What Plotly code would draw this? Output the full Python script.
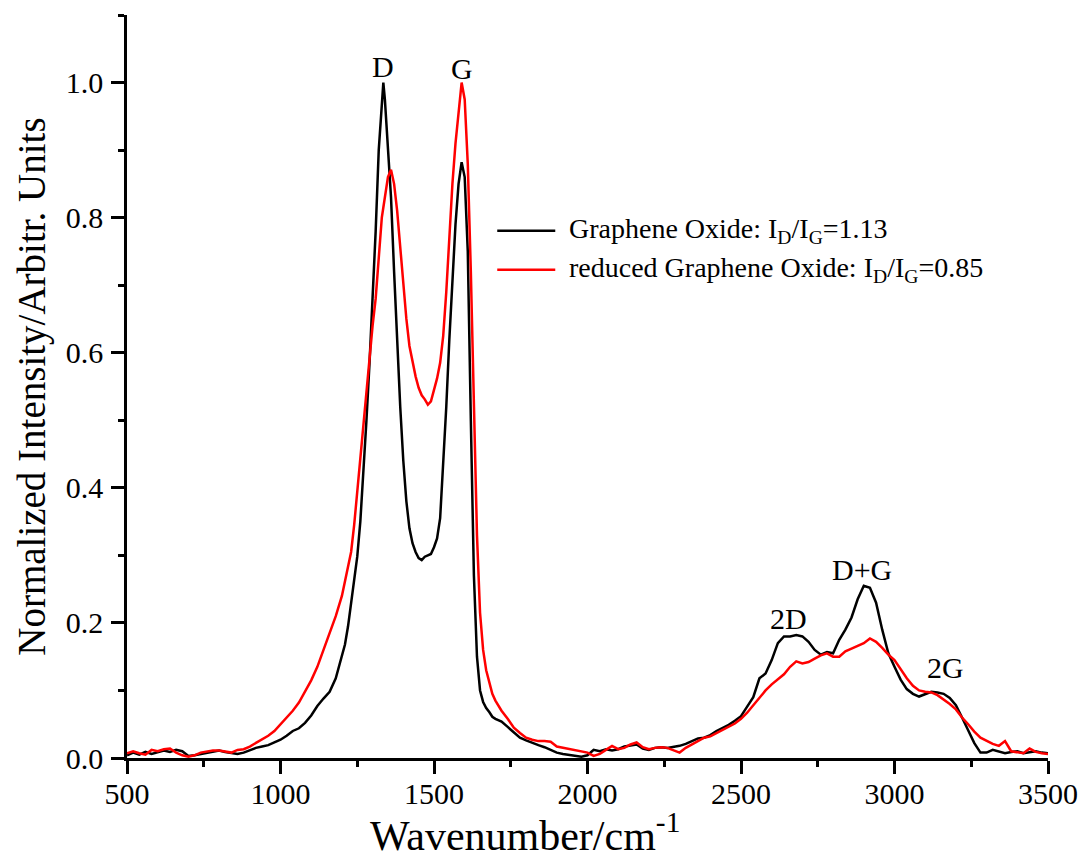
import plotly.graph_objects as go

# Raman shift sampling points (cm^-1)
wavenumber = [
    500, 520, 540, 560, 580, 600, 620, 640, 660, 680,
    700, 720, 740, 760, 780, 800, 820, 840, 860, 880,
    900, 920, 940, 960, 980, 1000, 1020, 1040, 1060, 1080,
    1100, 1120, 1140, 1160, 1180, 1200,
    1210, 1220, 1230, 1240, 1250, 1260, 1270, 1280, 1290, 1300,
    1310, 1320, 1330, 1335,
    1340, 1350, 1360, 1370, 1380, 1390, 1400, 1410, 1420, 1430,
    1440, 1450, 1460, 1470, 1480, 1490, 1500, 1510, 1520, 1530,
    1540, 1550, 1560, 1570, 1580, 1590, 1600, 1610, 1620, 1630,
    1640, 1650, 1660, 1670, 1680, 1690, 1700,
    1720, 1740, 1760, 1780, 1800, 1820, 1840, 1860, 1880, 1900,
    1920, 1940, 1960, 1980, 2000, 2020, 2040, 2060, 2080, 2100,
    2120, 2140, 2160, 2180, 2200, 2220, 2240, 2260, 2280, 2300,
    2320, 2340, 2360, 2380, 2400, 2420, 2440, 2460, 2480, 2500,
    2520, 2540, 2560, 2580, 2600, 2620, 2640, 2660, 2680, 2700,
    2720, 2740, 2760, 2780, 2800, 2820, 2840, 2860, 2880, 2900,
    2920, 2940, 2960, 2980, 3000, 3020, 3040, 3060, 3080, 3100,
    3120, 3140, 3160, 3180, 3200, 3220, 3240, 3260, 3280, 3300,
    3320, 3340, 3360, 3380, 3400, 3420, 3440, 3460, 3480, 3500,
]

# Normalized intensity, graphene oxide
go_intensity = [
    0.004, 0.008, 0.005, 0.009, 0.006, 0.008, 0.011, 0.009, 0.012, 0.010,
    0.003, 0.004, 0.006, 0.008, 0.010, 0.011, 0.009, 0.007, 0.006, 0.008,
    0.012, 0.015, 0.017, 0.019, 0.023, 0.027, 0.033, 0.040, 0.044, 0.052,
    0.063, 0.077, 0.088, 0.098, 0.118, 0.150,
    0.168, 0.195, 0.228, 0.262, 0.298, 0.350, 0.420, 0.500, 0.585, 0.680,
    0.780, 0.900, 0.975, 1.000,
    0.975, 0.905, 0.830, 0.720, 0.610, 0.520, 0.440, 0.380, 0.340, 0.318,
    0.305, 0.296, 0.293, 0.298, 0.300, 0.302, 0.312, 0.325, 0.355, 0.430,
    0.520, 0.620, 0.710, 0.790, 0.850, 0.882, 0.860, 0.750, 0.500, 0.270,
    0.150, 0.100, 0.083, 0.074, 0.068, 0.061, 0.058,
    0.054, 0.046, 0.038, 0.030, 0.026, 0.022, 0.019, 0.016, 0.012, 0.008,
    0.006, 0.005, 0.004, 0.002, 0.004, 0.012, 0.010, 0.013, 0.011, 0.013,
    0.017, 0.019, 0.020, 0.014, 0.012, 0.015, 0.016, 0.015, 0.016, 0.018,
    0.021, 0.025, 0.029, 0.030, 0.034, 0.040, 0.044, 0.049, 0.055, 0.062,
    0.076, 0.090, 0.118, 0.125, 0.145, 0.170, 0.180, 0.180, 0.182, 0.180,
    0.172, 0.160, 0.153, 0.157, 0.155, 0.175, 0.190, 0.208, 0.235, 0.255,
    0.252, 0.230, 0.190, 0.155, 0.135, 0.116, 0.102, 0.095, 0.091, 0.095,
    0.098, 0.097, 0.095, 0.089, 0.078, 0.060, 0.041, 0.022, 0.008, 0.008,
    0.012, 0.010, 0.007, 0.009, 0.010, 0.007, 0.008, 0.010, 0.008, 0.007,
]

# Normalized intensity, reduced graphene oxide
rgo_intensity = [
    0.007, 0.010, 0.007, 0.005, 0.012, 0.010, 0.013, 0.014, 0.008, 0.004,
    0.002, 0.004, 0.008, 0.010, 0.011, 0.011, 0.010, 0.008, 0.012, 0.013,
    0.017, 0.022, 0.027, 0.033, 0.040, 0.050, 0.060, 0.070, 0.082, 0.098,
    0.115, 0.135, 0.160, 0.185, 0.210, 0.240,
    0.262, 0.283, 0.305, 0.345, 0.395, 0.445, 0.500, 0.550, 0.600, 0.640,
    0.680, 0.745, 0.800, 0.815,
    0.830, 0.860, 0.871, 0.850, 0.810, 0.757, 0.710, 0.650, 0.610, 0.585,
    0.565, 0.548, 0.537, 0.531, 0.523, 0.528, 0.545, 0.562, 0.585, 0.625,
    0.690, 0.770, 0.850, 0.910, 0.960, 1.000, 0.975, 0.880, 0.720, 0.520,
    0.330, 0.215, 0.160, 0.130, 0.110, 0.095, 0.085,
    0.070, 0.058, 0.045, 0.037, 0.030, 0.027, 0.025, 0.025, 0.024, 0.017,
    0.015, 0.014, 0.012, 0.010, 0.008, 0.003, 0.006, 0.012, 0.018, 0.013,
    0.015, 0.020, 0.023, 0.016, 0.013, 0.015, 0.016, 0.015, 0.012, 0.008,
    0.015, 0.020, 0.024, 0.030, 0.032, 0.037, 0.041, 0.046, 0.051, 0.058,
    0.067, 0.078, 0.089, 0.100, 0.109, 0.116, 0.124, 0.135, 0.143, 0.140,
    0.142, 0.147, 0.152, 0.155, 0.150, 0.150, 0.158, 0.162, 0.166, 0.170,
    0.177, 0.172, 0.163, 0.153, 0.145, 0.132, 0.118, 0.107, 0.100, 0.098,
    0.097, 0.093, 0.087, 0.080, 0.072, 0.060, 0.050, 0.039, 0.030, 0.025,
    0.021, 0.018, 0.025, 0.010, 0.008, 0.007, 0.014, 0.009, 0.007, 0.006,
]

series_names = [
    "Graphene Oxide: I<sub>D</sub>/I<sub>G</sub>=1.13",
    "reduced Graphene Oxide: I<sub>D</sub>/I<sub>G</sub>=0.85",
]
series_colors = ["#000000", "#ff0000"]

# Band labels and where they sit (wavenumber, intensity)
band_labels = ["D", "G", "2D", "D+G", "2G"]
band_label_x = [1335, 1592, 2655, 2895, 3165]
band_label_y = [1.024, 1.021, 0.207, 0.279, 0.134]

assert len(wavenumber) == len(go_intensity) == len(rgo_intensity)

FONT = "Liberation Serif"

fig = go.Figure()
for ys, name, color in zip([go_intensity, rgo_intensity], series_names, series_colors):
    fig.add_trace(go.Scatter(
        x=wavenumber, y=ys, mode="lines", name=name,
        line=dict(color=color, width=2.5),
        showlegend=False,
    ))

# Peak labels
for txt, bx, by in zip(band_labels, band_label_x, band_label_y):
    fig.add_annotation(
        x=bx, y=by, text=txt, showarrow=False,
        xanchor="center", yanchor="middle",
        font=dict(family=FONT, size=30, color="black"),
    )

# Hand-drawn legend: line swatch plus label
legend_rows_y = [0.7095, 0.657]
for name, color, ly in zip(series_names, series_colors, legend_rows_y):
    fig.add_shape(
        type="line", xref="paper", yref="paper",
        x0=0.402, x1=0.465, y0=ly, y1=ly,
        line=dict(color=color, width=2.5),
    )
    fig.add_annotation(
        xref="paper", yref="paper", x=0.478, y=ly,
        text=name, showarrow=False, xanchor="left", yanchor="middle",
        font=dict(family=FONT, size=28, color="black"),
    )

# Axis titles
fig.add_annotation(
    xref="paper", yref="paper", x=0.4325, y=-0.1005,
    text="Wavenumber/cm<sup>-1</sup>", showarrow=False,
    xanchor="center", yanchor="middle",
    font=dict(family=FONT, size=42, color="black"),
)
fig.add_annotation(
    xref="paper", yref="paper", x=-0.104, y=0.5,
    text="Normalized Intensity/Arbitr. Units", showarrow=False, textangle=-90,
    xanchor="center", yanchor="middle",
    font=dict(family=FONT, size=39, color="black"),
)

axis_common = dict(
    showline=True, linecolor="black", linewidth=2.5,
    ticks="outside", ticklen=13, tickwidth=2.5, tickcolor="black",
    showgrid=False, zeroline=False, mirror=False,
    tickfont=dict(family=FONT, size=30, color="black"),
)

fig.update_xaxes(
    range=[500, 3500], tick0=500, dtick=500, ticklabelstandoff=-6,
    minor=dict(ticks="outside", ticklen=6, tickwidth=2.5, tickcolor="black", dtick=250),
    **axis_common,
)
fig.update_yaxes(
    range=[0, 1.1], tick0=0, dtick=0.2, tickformat=".1f", ticklabelstandoff=2,
    minor=dict(ticks="outside", ticklen=6, tickwidth=2.5, tickcolor="black", dtick=0.1),
    **axis_common,
)

fig.update_layout(
    width=1081, height=863,
    margin=dict(l=127, r=33, t=15, b=105, autoexpand=False),
    paper_bgcolor="white", plot_bgcolor="white",
    font=dict(family=FONT, color="black"),
)

fig.write_html("out.html")
